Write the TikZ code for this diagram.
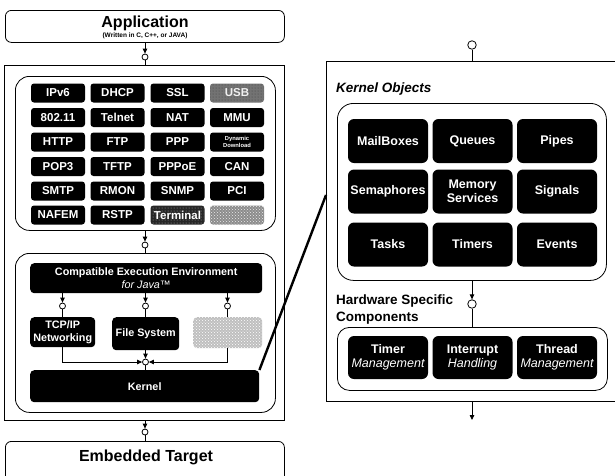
\documentclass[tikz,border=0pt]{standalone}
\usepackage{fontspec}
\setmainfont{Liberation Sans}
\usetikzlibrary{arrows.meta,patterns}

\begin{document}
\begin{tikzpicture}[x=1pt,y=-1pt,
  every node/.style={font=\bfseries},
  frame/.style={draw, line width=0.8pt, inner sep=0pt},
  roundframe/.style={draw, line width=0.8pt, inner sep=0pt, rounded corners=#1},
  roundframe/.default=12pt,
  cell/.style={fill=black, rounded corners=3pt, text=white, minimum width=54pt,
    minimum height=19pt, inner sep=0pt, align=center,
    font=\bfseries\fontsize{11.5}{12}\selectfont},
  greycell/.style={cell, preaction={fill=black!45}, fill=none,
    pattern=crosshatch dots, pattern color=white!85!gray},
  usbcell/.style={cell, preaction={fill=black!55}, fill=none,
    pattern=dots, pattern color=black!75, text=white!88!gray},
  darkcell/.style={cell, preaction={fill=black!85}, fill=none,
    pattern=dots, pattern color=gray!70},
  kcell/.style={fill=black, rounded corners=6pt, text=white, minimum width=80pt,
    minimum height=44pt, inner sep=0pt, align=center,
    font=\bfseries\fontsize{12.5}{14}\selectfont},
  blk/.style={fill=black, rounded corners=4pt, text=white, inner sep=0pt, align=center,
    font=\bfseries\fontsize{10.8}{12.5}\selectfont},
  port/.style={circle, draw, fill=white, line width=0.8pt, inner sep=0pt, minimum size=6pt},
  bigport/.style={port, minimum size=8.5pt},
  arr/.style={line width=0.8pt, -{Triangle[length=5pt,width=4.5pt]}},
  wire/.style={line width=0.8pt},
  heading/.style={anchor=west, align=left, inner sep=0pt,
    font=\bfseries\fontsize{13.5}{17}\selectfont}
]
\useasboundingbox (0,0) rectangle (615,475);

% ---------------- left stack ----------------
\node[roundframe=6pt, minimum width=279pt, minimum height=32pt, anchor=north west] (app) at (5,10) {};
\node[font=\bfseries\fontsize{16}{18}\selectfont] (apptitle) at (145,23) {Application};
\node[font=\bfseries\fontsize{6.5}{7}\selectfont] (appsub) at (145,36) {(Written in C, C++, or JAVA)};

\node[frame, minimum width=280pt, minimum height=355pt, anchor=north west] (outer) at (4,65) {};
\node[roundframe=14pt, minimum width=260pt, minimum height=154pt, anchor=north west] (proto) at (15,76) {};
\node[roundframe=14pt, minimum width=260pt, minimum height=159pt, anchor=north west] (env) at (15,253) {};

\node[roundframe=6pt, minimum width=279pt, minimum height=50pt, anchor=north west] (target) at (5,441) {};
\node[font=\bfseries\fontsize{16}{18}\selectfont] (targettitle) at (146,457) {Embedded Target};

% protocol and device grid
\node[cell] (c11) at (58,93) {IPv6};
\node[cell] (c12) at (117.5,93) {DHCP};
\node[cell] (c13) at (177.5,93) {SSL};
\node[usbcell] (c14) at (237,93) {USB};
\node[cell] (c21) at (58,117.5) {802.11};
\node[cell] (c22) at (117.5,117.5) {Telnet};
\node[cell] (c23) at (177.5,117.5) {NAT};
\node[cell] (c24) at (237,117.5) {MMU};
\node[cell] (c31) at (58,142) {HTTP};
\node[cell] (c32) at (117.5,142) {FTP};
\node[cell] (c33) at (177.5,142) {PPP};
\node[cell, font=\bfseries\fontsize{5.8}{6.8}\selectfont] (c34) at (237,142) {Dynamic\\Download};
\node[cell] (c41) at (58,166.5) {POP3};
\node[cell] (c42) at (117.5,166.5) {TFTP};
\node[cell] (c43) at (177.5,166.5) {PPPoE};
\node[cell] (c44) at (237,166.5) {CAN};
\node[cell] (c51) at (58,191) {SMTP};
\node[cell] (c52) at (117.5,191) {RMON};
\node[cell] (c53) at (177.5,191) {SNMP};
\node[cell] (c54) at (237,191) {PCI};
\node[cell] (c61) at (58,215) {NAFEM};
\node[cell] (c62) at (117.5,215) {RSTP};
\node[darkcell] (c63) at (177.5,215) {Terminal};
\node[greycell] (c64) at (237,215) {};

% execution environment
\node[blk, minimum width=232pt, minimum height=30pt, anchor=north west] (cee) at (30,263)
  {Compatible Execution Environment\\{\mdseries\itshape for Java™}};
\node[blk, minimum width=65pt, minimum height=30pt, anchor=north west] (tcp) at (30,317) {TCP/IP\\Networking};
\node[blk, minimum width=67pt, minimum height=33pt, anchor=north west] (fs) at (112,317) {File System};
\node[blk, preaction={fill=black!25}, fill=none, pattern=crosshatch dots, pattern color=white,
  minimum width=69pt, minimum height=31pt, anchor=north west] (gbox) at (193,317) {};
\node[blk, minimum width=229pt, minimum height=32pt, anchor=north west] (kern) at (30,370) {Kernel};

% interface ports on the left
\node[port] (p1) at (145,57) {};
\node[port] (p2) at (145,245) {};
\node[port] (p3) at (145,432) {};
\node[port] (q1) at (62.5,306) {};
\node[port] (q2) at (145.5,306) {};
\node[port] (q3) at (227.5,306) {};
\node[port] (j) at (145.5,362) {};

\draw[arr] (p1 |- app.south) -- (p1);
\draw[wire] (p1) -- (p1 |- outer.north);
\draw[arr] (p2 |- proto.south) -- (p2);
\draw[wire] (p2) -- (p2 |- env.north);
\draw[arr] (p3 |- outer.south) -- (p3);
\draw[wire] (p3) -- (p3 |- target.north);

\draw[arr] (q1 |- cee.south) -- (q1);
\draw[wire] (q1) -- (q1 |- tcp.north);
\draw[arr] (q2 |- cee.south) -- (q2);
\draw[wire] (q2) -- (q2 |- fs.north);
\draw[arr] (q3 |- cee.south) -- (q3);
\draw[wire] (q3) -- (q3 |- gbox.north);

\draw[arr] (tcp.south) |- (j);
\draw[arr] (gbox.south) |- (j);
\draw[arr] (j |- fs.south) -- (j);
\draw[wire] (j) -- (j |- kern.north);

% ---------------- right panel ----------------
\node[frame, minimum width=300pt, minimum height=340pt, anchor=north west] (rpanel) at (326,61) {};
\node[heading, font=\bfseries\itshape\fontsize{13.5}{17}\selectfont] (kotitle) at (336,89) {Kernel Objects};
\node[roundframe=16pt, minimum width=269pt, minimum height=177pt, anchor=north west] (ko) at (337,103) {};

\node[kcell] (k11) at (388,141) {MailBoxes};
\node[kcell] (k12) at (472.5,141) {Queues};
\node[kcell] (k13) at (557,141) {Pipes};
\node[kcell] (k21) at (388,191.5) {Semaphores};
\node[kcell] (k22) at (472.5,191.5) {Memory\\Services};
\node[kcell] (k23) at (557,191.5) {Signals};
\node[kcell] (k31) at (388,244.5) {Tasks};
\node[kcell] (k32) at (472.5,244.5) {Timers};
\node[kcell] (k33) at (557,244.5) {Events};

\node[heading] (hwtitle) at (336,309) {Hardware Specific\\Components};
\node[roundframe=12pt, minimum width=270pt, minimum height=63pt, anchor=north west] (hw) at (337,327) {};
\node[kcell, minimum height=43pt] (h1) at (388,357.5) {Timer\\{\mdseries\itshape Management}};
\node[kcell, minimum height=43pt] (h2) at (472.5,357.5) {Interrupt\\{\mdseries\itshape Handling}};
\node[kcell, minimum height=43pt] (h3) at (557,357.5) {Thread\\{\mdseries\itshape Management}};

\node[bigport] (tp) at (472,45) {};
\draw[wire] (tp) -- (tp |- rpanel.north);
\node[bigport] (hp) at (472,304) {};
\draw[arr] (hp |- ko.south) -- (hp);
\draw[wire] (hp) -- (hp |- hw.north);
\coordinate (rout) at (472,420);
\draw[arr] (rout |- rpanel.south) -- (rout);

% kernel expanded into the right panel
\coordinate (rk) at (326,195);
\draw[line width=2.4pt] (kern.north east) -- (rk);
\end{tikzpicture}
\end{document}
